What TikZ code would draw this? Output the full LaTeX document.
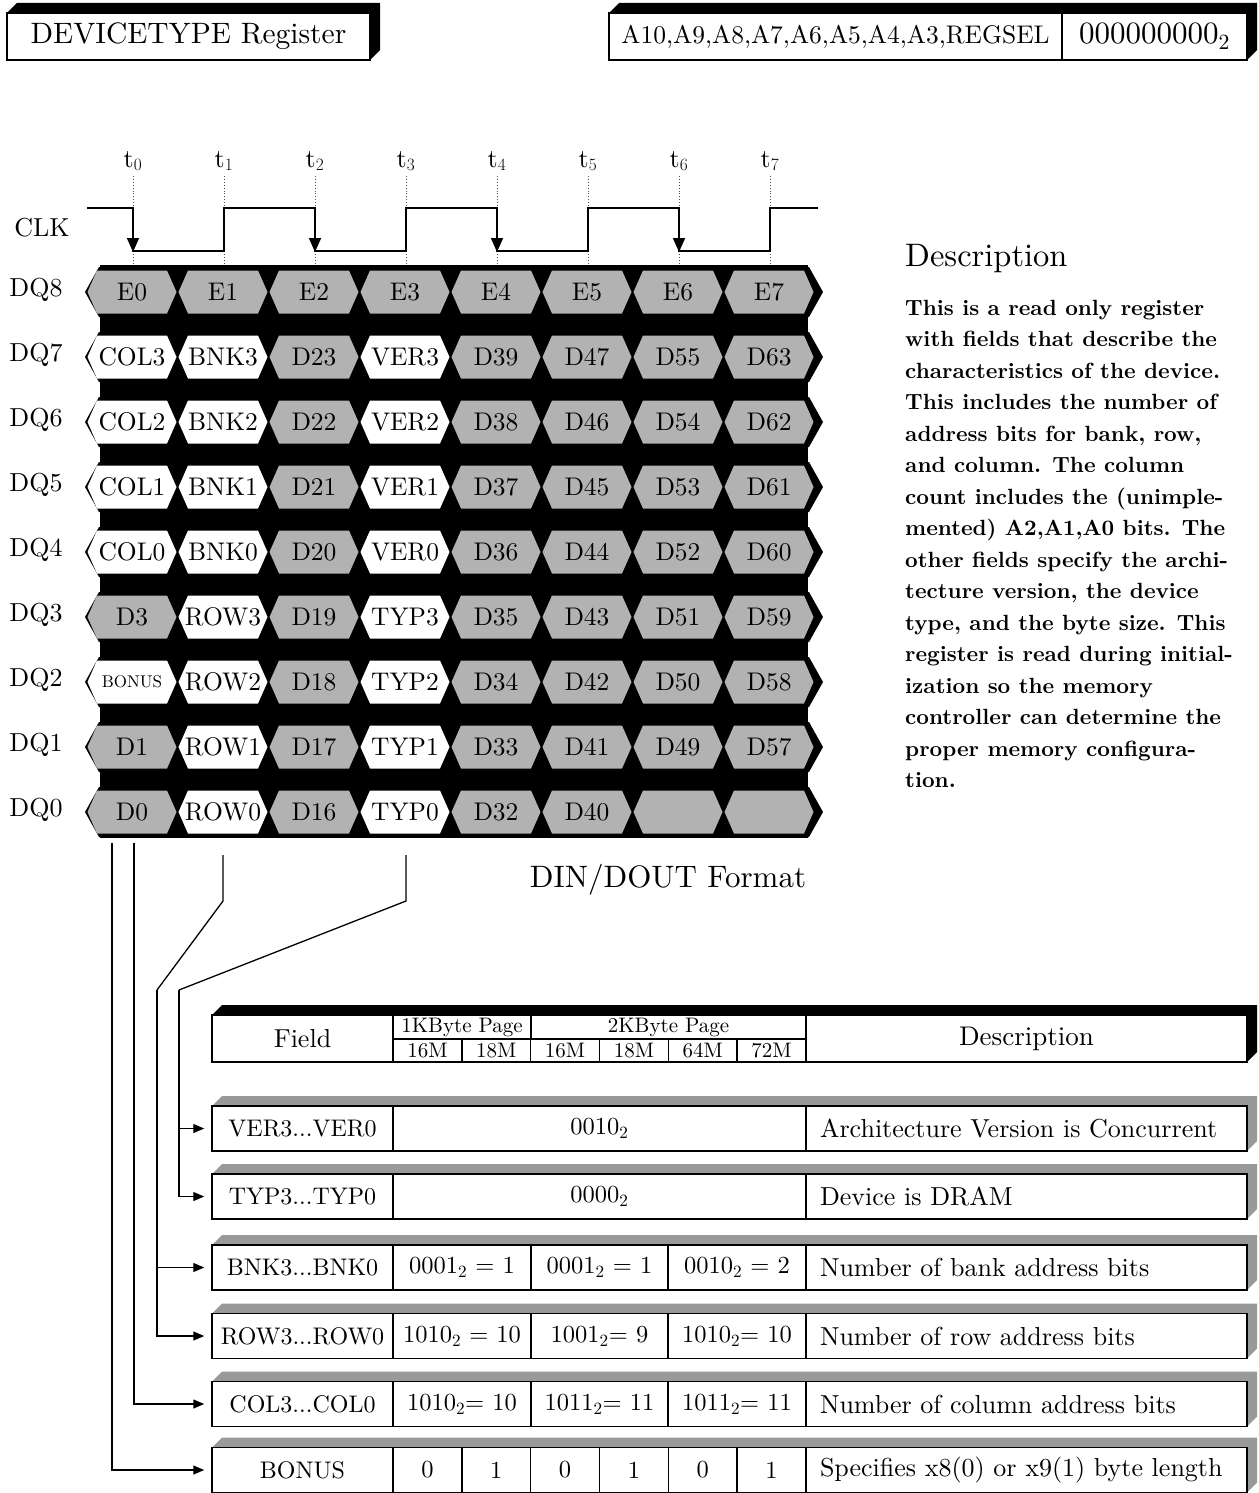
\documentclass[tikz,border=0pt]{standalone}
\usepackage{fontspec}
\setmainfont{lmroman10-regular.otf}[BoldFont=lmroman10-bold.otf, ItalicFont=lmroman10-italic.otf]
\usetikzlibrary{arrows.meta}

\begin{document}
\begin{tikzpicture}[x=1pt, y=-1pt, >={Triangle[length=11pt,width=9pt]},
  font=\fontsize{25.5}{28}\selectfont,
  face/.style={draw, line width=1.5pt, fill=white, inner sep=0pt},
  tcell/.style={face, minimum height=45pt},
  cellg/.style={fill=black!30},
  cellw/.style={fill=white},
  band/.style={fill=black!40},
  wave/.style={line width=1.8pt},
  tick/.style={dotted, line width=0.9pt, black!70},
  wire/.style={line width=1.3pt},
  link/.style={wire, ->, shorten >=7pt}]
  \useasboundingbox (0,0) rectangle (1258,1493);

  \fill (7,13) -- (17,3) -- (380,3) -- (380,50) -- (370,60) -- (370,13) -- cycle;
  \node[face, minimum width=363pt, minimum height=47pt, font=\fontsize{29.5}{31}\selectfont] (title) at (188.5,36.5) {DEVICETYPE Register};
  \fill (609,13) -- (619,3) -- (1257,3) -- (1257,50) -- (1247,60) -- (1247,13) -- cycle;
  \node[face, minimum width=453pt, minimum height=47pt, font=\fontsize{25.5}{28}\selectfont] (addr) at (835.5,36.5) {A10,A9,A8,A7,A6,A5,A4,A3,REGSEL};
  \node[face, minimum width=185pt, minimum height=47pt, font=\fontsize{31}{33}\selectfont] (sel) at (1154.5,36.5) {000000000\textsubscript{2}};

  \foreach \i in {0,...,7} {
    \draw[tick] (133+91*\i,176) -- (133+91*\i,265);
    \node[font=\fontsize{26}{28}\selectfont] (t\i) at (133+91*\i,161) {t$_{\i}$};
  }
  \node[font=\fontsize{26}{28}\selectfont] (clk) at (42,228) {CLK};
  \draw[wave] (87,208) -- (133,208) -- (133,251) -- (224,251) -- (224,208) -- (315,208) -- (315,251)
    -- (406,251) -- (406,208) -- (497,208) -- (497,251) -- (588,251) -- (588,208) -- (679,208)
    -- (679,251) -- (770,251) -- (770,208) -- (818,208);
  \foreach \i in {0,2,4,6}
    \draw[wave, -{Triangle[length=14pt,width=12pt]}] (133+91*\i,225) -- (133+91*\i,252);

  \fill (100,265) rectangle (808,838);
  \foreach \r/\cells in {
    8/{E0/g,E1/g,E2/g,E3/g,E4/g,E5/g,E6/g,E7/g},
    7/{COL3/w,BNK3/w,D23/g,VER3/w,D39/g,D47/g,D55/g,D63/g},
    6/{COL2/w,BNK2/w,D22/g,VER2/w,D38/g,D46/g,D54/g,D62/g},
    5/{COL1/w,BNK1/w,D21/g,VER1/w,D37/g,D45/g,D53/g,D61/g},
    4/{COL0/w,BNK0/w,D20/g,VER0/w,D36/g,D44/g,D52/g,D60/g},
    3/{D3/g,ROW3/w,D19/g,TYP3/w,D35/g,D43/g,D51/g,D59/g},
    2/{{\fontsize{17}{17}\selectfont BONUS}/w,ROW2/w,D18/g,TYP2/w,D34/g,D42/g,D50/g,D58/g},
    1/{D1/g,ROW1/w,D17/g,TYP1/w,D33/g,D41/g,D49/g,D57/g},
    0/{D0/g,ROW0/w,D16/g,TYP0/w,D32/g,D40/g,{}/g,{}/g}} {
    \pgfmathsetmacro\y{292+65*(8-\r)}
    \fill (85,\y) -- (99,\y-25) -- (809,\y-25) -- (823,\y) -- (809,\y+25) -- (99,\y+25) -- cycle;
    \node[font=\fontsize{26}{28}\selectfont] (dq\r) at (36,\y-2) {DQ\r};
    \foreach \lab/\f [count=\i from 0] in \cells {
      \pgfmathsetmacro\x{132+91*\i}
      \path[cell\f] (\x-44.5,\y) -- (\x-35,\y-21.5) -- (\x+35,\y-21.5) -- (\x+44.5,\y)
        -- (\x+35,\y+21.5) -- (\x-35,\y+21.5) -- cycle;
      \node (q\r-\i) at (\x,\y) {\lab};
    }
  }
  \node[font=\fontsize{31}{33}\selectfont] (fmt) at (668,880) {DIN/DOUT Format};

  \node[anchor=base west, inner sep=0pt, font=\fontsize{32.5}{34}\selectfont] (dhead) at (905,266) {Description};
  \node[anchor=north west, inner sep=0pt, align=left, font=\fontsize{22}{31.5}\selectfont\bfseries] (dtext) at (905,300)
    {This is a read only register\\ with fields that describe the\\ characteristics of the device.\\
     This includes the number of\\ address bits for bank, row,\\ and column. The column\\
     count includes the (unimple-\\ mented) A2,A1,A0 bits. The\\ other fields specify the archi-\\
     tecture version, the device\\ type, and the byte size. This\\ register is read during initial-\\
     ization so the memory\\ controller can determine the\\ proper memory configura-\\ tion.};

  \fill (212,1015) -- (222,1005) -- (1257,1005) -- (1257,1052) -- (1247,1062) -- (1247,1015) -- cycle;
  \node[face, minimum width=181pt, minimum height=47pt, font=\fontsize{26}{28}\selectfont] (hfield) at (302.5,1038.5) {Field};
  \node[face, minimum width=138pt, minimum height=24pt, font=\fontsize{21}{22}\selectfont] (h1k) at (462,1027) {1KByte Page};
  \node[face, minimum width=275pt, minimum height=24pt, font=\fontsize{21}{22}\selectfont] (h2k) at (668.5,1027) {2KByte Page};
  \foreach \m [count=\k from 0] in {16M,18M,16M,18M,64M,72M}
    \node[face, minimum width=68.8pt, minimum height=23pt, font=\fontsize{21}{22}\selectfont] (hs\k) at (427.4+68.83*\k,1050.5) {\m};
  \node[face, minimum width=441pt, minimum height=47pt, font=\fontsize{27}{29}\selectfont] (hdesc) at (1026.5,1038.5) {Description};

  \foreach \y in {1128.5,1196.5,1267.5,1336,1404,1470}
    \fill[band] (212,\y-22.5) -- (222,\y-32.5) -- (1257,\y-32.5) -- (1257,\y+12.5) -- (1247,\y+22.5) -- (1247,\y-22.5) -- cycle;
  \foreach \n/\y/\t in {VER/1128.5/VER3.{}.{}.VER0, TYP/1196.5/TYP3.{}.{}.TYP0, BNK/1267.5/BNK3.{}.{}.BNK0,
                        ROW/1336/ROW3.{}.{}.ROW0, COL/1404/COL3.{}.{}.COL0, BONUS/1470/BONUS}
    \node[tcell, minimum width=181pt, font=\fontsize{24}{26}\selectfont] (f\n) at (302.5,\y) {\t};
  \node[tcell, minimum width=413pt, font=\fontsize{24.5}{26}\selectfont] (vVER) at (599.5,1128.5) {0010\textsubscript{2}};
  \node[tcell, minimum width=413pt, font=\fontsize{24.5}{26}\selectfont] (vTYP) at (599.5,1196.5) {0000\textsubscript{2}};
  \foreach \n/\y/\a/\b/\c in {
    BNK/1267.5/0001\textsubscript{2} = 1/0001\textsubscript{2} = 1/0010\textsubscript{2} = 2,
    ROW/1336/1010\textsubscript{2} = 10/1001\textsubscript{2}= 9/1010\textsubscript{2}= 10,
    COL/1404/1010\textsubscript{2}= 10/1011\textsubscript{2}= 11/1011\textsubscript{2}= 11} {
    \node[tcell, minimum width=138pt, font=\fontsize{24.5}{26}\selectfont] (v\n1) at (462,\y) {\a};
    \node[tcell, minimum width=137pt, font=\fontsize{24.5}{26}\selectfont] (v\n2) at (599.5,\y) {\b};
    \node[tcell, minimum width=138pt, font=\fontsize{24.5}{26}\selectfont] (v\n3) at (737,\y) {\c};
  }
  \foreach \v [count=\k from 0] in {0,1,0,1,0,1}
    \node[tcell, minimum width=68.8pt, font=\fontsize{24.5}{26}\selectfont] (bit\k) at (427.4+68.83*\k,1470) {\v};
  \foreach \n/\y/\t in {VER/1128.5/Architecture Version is Concurrent, TYP/1196.5/Device is DRAM,
                        BNK/1267.5/Number of bank address bits, ROW/1336/Number of row address bits,
                        COL/1404/Number of column address bits, BONUS/1470/Specifies x8(0) or x9(1) byte length}
    \node[tcell, minimum width=441pt, text width=413pt, inner xsep=14pt, align=left, font=\fontsize{26}{28}\selectfont] (d\n) at (1026.5,\y) {\t};

  \coordinate (tapB) at (112,843);
  \coordinate (tapC) at (134,843);
  \coordinate (tapR) at (223,855);
  \coordinate (kneeR) at (223,901);
  \coordinate (footR) at (157,990);
  \coordinate (tapT) at (406,855);
  \coordinate (kneeT) at (406,901);
  \coordinate (footT) at (179,990);
  \draw[link] (tapB) |- (fBONUS.west);
  \draw[link] (tapC) |- (fCOL.west);
  \draw[wire] (tapR) -- (kneeR) -- (footR);
  \draw[link] (footR) |- (fBNK.west);
  \draw[link] (footR) |- (fROW.west);
  \draw[wire] (tapT) -- (kneeT) -- (footT);
  \draw[link] (footT) |- (fVER.west);
  \draw[link] (footT) |- (fTYP.west);
\end{tikzpicture}
\end{document}
